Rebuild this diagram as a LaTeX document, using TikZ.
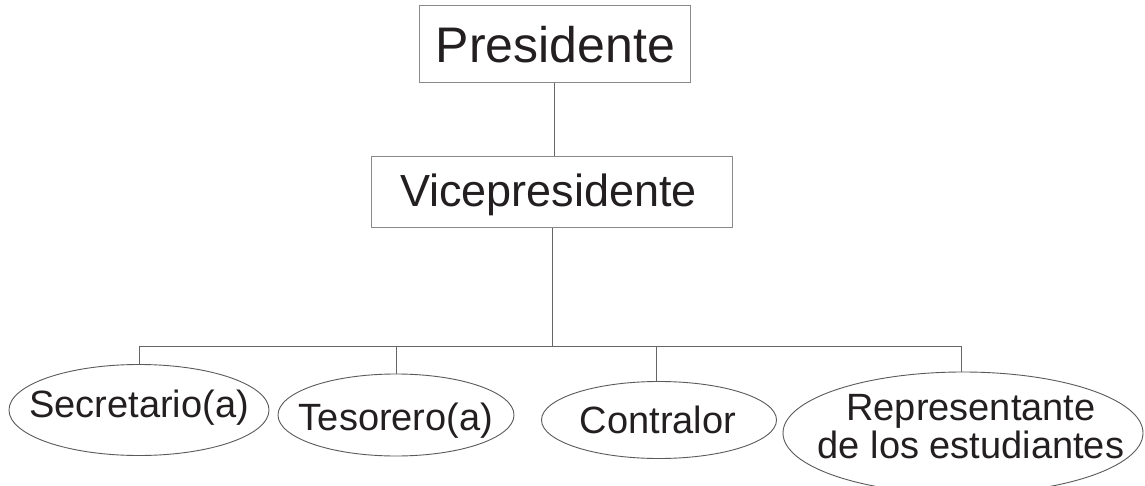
\documentclass[tikz,border=0pt]{standalone}
\usepackage{fontspec}
\setmainfont{Liberation Sans}
\usetikzlibrary{shapes.geometric}
\definecolor{txt}{HTML}{231F20}
\definecolor{boxline}{HTML}{8A8A8A}
\definecolor{ellline}{HTML}{5A5A5A}
\definecolor{conn}{HTML}{666666}
\begin{document}
\begin{tikzpicture}[x=1pt,y=-1pt,
  rolebox/.style={draw=boxline, line width=1pt, inner sep=0pt},
  roleell/.style={ellipse, draw=ellline, line width=0.9pt, inner sep=0pt},
  roletxt/.style={anchor=base, inner sep=0pt, text=txt, align=center},
  smalltxt/.style={roletxt, font=\fontsize{38}{38}\selectfont},
  link/.style={draw=conn, line width=1pt}]
\useasboundingbox (0,0) rectangle (1145,486);
\fill[white] (0,0) rectangle (1145,486);
\node[rolebox, minimum width=271pt, minimum height=77pt] (pres) at (554.5,44.5) {};
\node[roletxt, font=\fontsize{50}{50}\selectfont] (prest) at (555.5,63) {Presidente};
\node[rolebox, minimum width=361pt, minimum height=71pt] (vice) at (551.5,192.5) {};
\node[roletxt, font=\fontsize{45}{45}\selectfont] (vicet) at (548.5,207) {Vicepresidente};
\node[roleell, minimum width=260pt, minimum height=91pt] (sec) at (139,410) {};
\node[smalltxt] (sect) at (139,417) {Secretario(a)};
\node[roleell, minimum width=236pt, minimum height=82pt] (tes) at (396,415) {};
\node[smalltxt] (test) at (396,430) {Tesorero(a)};
\node[roleell, minimum width=235pt, minimum height=77pt] (con) at (659,420) {};
\node[smalltxt] (cont) at (658,433) {Contralor};
\node[roleell, minimum width=360pt, minimum height=122pt] (rep) at (963,433) {};
\node[smalltxt] (rept) at (971,458) {Representante\\de los estudiantes};
\coordinate (j) at (552,346);
\coordinate (hl) at (139,346);
\coordinate (hr) at (961,346);
\coordinate (ct) at (656,346);
\draw[link] (pres.south) -- (pres.south |- vice.north);
\draw[link] (vice.south -| j) -- (j);
\draw[link] (hl) -- (hr);
\draw[link] (hl) -- (sec.north);
\draw[link] (tes.north |- hl) -- (tes.north);
\draw[link] (ct) -- (ct |- con.north);
\draw[link] (hr) -- (hr |- rep.north);
\end{tikzpicture}
\end{document}
